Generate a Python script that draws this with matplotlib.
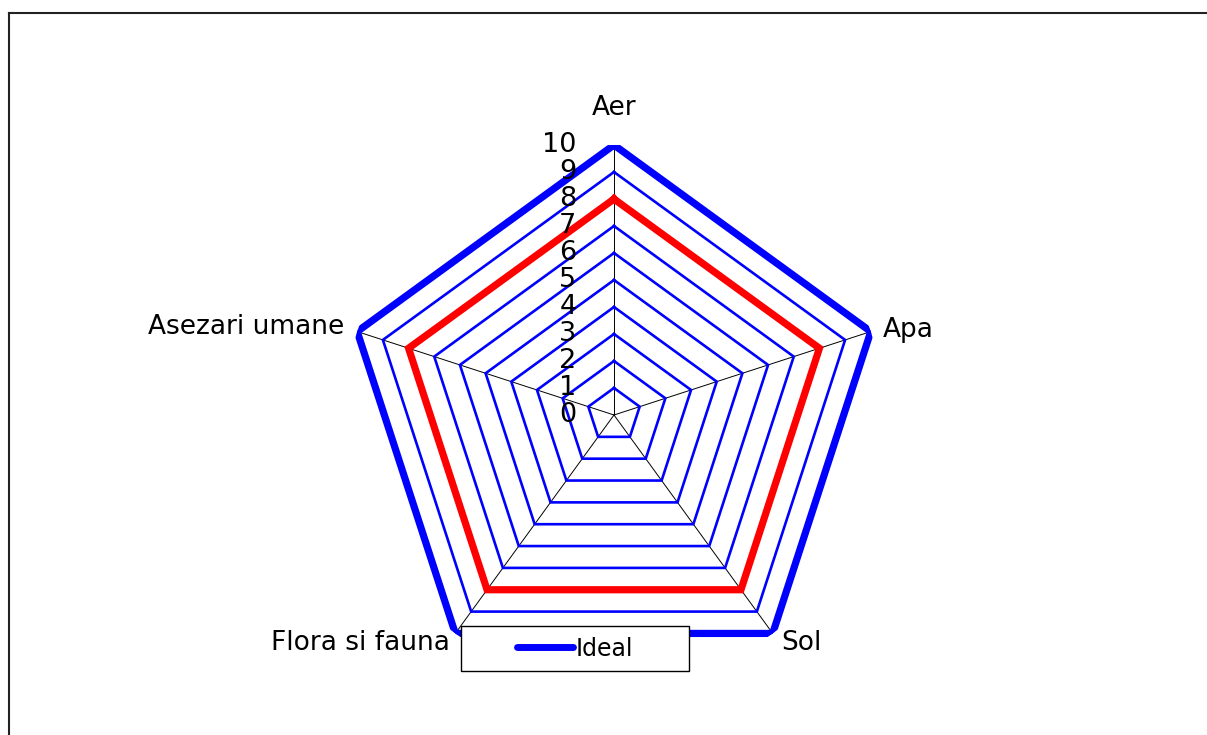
import numpy as np
import matplotlib
matplotlib.use('Agg')
import matplotlib.pyplot as plt
from matplotlib.lines import Line2D
from matplotlib.patches import Rectangle

categories = ['Aer', 'Apa', 'Sol', 'Flora si fauna', 'Asezari umane']
ideal = [10, 10, 10, 10, 10]
actual = [8, 8, 8, 8, 8]
ring_levels = [1, 2, 3, 4, 5, 6, 7, 8, 9, 10]
tick_values = [0, 1, 2, 3, 4, 5, 6, 7, 8, 9, 10]

plt.rcParams['font.family'] = ['DejaVu Sans']

W, H = 1207, 735
dpi = 100
fig = plt.figure(figsize=(W / dpi, H / dpi), dpi=dpi)

# polar axes placed so the centre sits at (614, 415) px and r=10 is 270 px
cx, cy, R = 614, 415, 270
ax = fig.add_axes([(cx - R) / W, (H - cy - R) / H, 2 * R / W, 2 * R / H],
                  projection='polar')
ax.set_theta_zero_location('N')
ax.set_theta_direction(-1)
ax.set_ylim(0, 10)
ax.grid(False)
ax.spines['polar'].set_visible(False)
ax.set_xticks([])
ax.set_yticks([])
ax.patch.set_alpha(0)

n = len(categories)
theta = np.linspace(0, 2 * np.pi, n, endpoint=False)
theta_closed = np.append(theta, theta[0])

def closed(vals):
    return list(vals) + [vals[0]]

# spokes
for t in theta:
    ax.plot([t, t], [0, 10], color='black', lw=0.7, zorder=1)

# pentagon rings
for lv in ring_levels:
    ax.plot(theta_closed, [lv] * (n + 1), color='#0000ff', lw=1.9, zorder=2,
            solid_joinstyle='miter')

# series
ax.plot(theta_closed, closed(ideal), color='#0000ff', lw=5.2, zorder=3,
        solid_joinstyle='miter', label='Ideal')
ax.plot(theta_closed, closed(actual), color='#ff0000', lw=5.2, zorder=3,
        solid_joinstyle='miter')

# radial value labels
for v in tick_values:
    ax.annotate(str(v), xy=(0, v), xytext=(-27, 0), textcoords='offset points',
                ha='right', va='center', fontsize=19.5, zorder=4)

# category labels (offsets in px converted to points)
offsets = [(0, 27, 'center', 'center'),
           (9, 1, 'left', 'center'),
           (6, -7, 'left', 'center'),
           (-4, -7, 'right', 'center'),
           (-9, 3, 'right', 'center')]
for t, name, (dx, dy, ha, va) in zip(theta, categories, offsets):
    ax.annotate(name, xy=(t, 10), xytext=(dx, dy), textcoords='offset points',
                ha=ha, va=va, fontsize=19, annotation_clip=False)

# legend box
lx0, ly0, lx1, ly1 = 461, 626, 689, 671
fig.patches.append(Rectangle((lx0 / W, 1 - ly1 / H), (lx1 - lx0) / W, (ly1 - ly0) / H,
                             transform=fig.transFigure, facecolor='white',
                             edgecolor='black', lw=1.0, zorder=5))
leg = fig.legend(loc='center', bbox_to_anchor=((lx0 + lx1) / 2 / W, 1 - (ly0 + ly1) / 2 / H),
                 frameon=False, fontsize=17, handlelength=2.4, handletextpad=0.1)
leg.set_zorder(6)
for h in leg.legend_handles:
    h.set_linewidth(5)
    h.set_solid_capstyle('round')

# outer frame (left and top edges only are visible)
fig.add_artist(Line2D([9 / W, 9 / W], [0, 1 - 13 / H], transform=fig.transFigure,
                      color='#222222', lw=1.5))
fig.add_artist(Line2D([9 / W, 1], [1 - 13 / H, 1 - 13 / H], transform=fig.transFigure,
                      color='#222222', lw=1.5))

fig.savefig('out.png', dpi=dpi, facecolor='white')
